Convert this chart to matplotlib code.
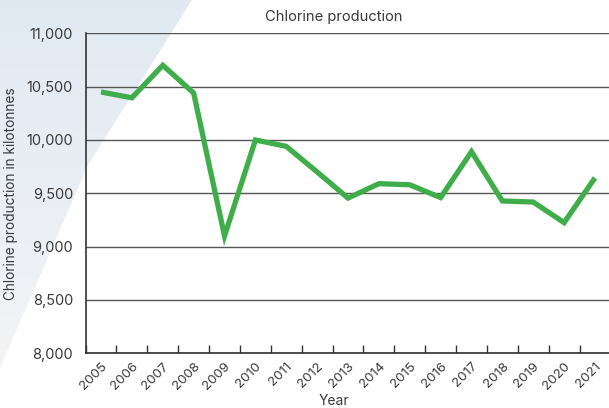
import numpy as np
import matplotlib.pyplot as plt
from matplotlib.patches import Polygon

plt.rcParams['font.family'] = ['Inter', 'DejaVu Sans']

years = ['2005', '2006', '2007', '2008', '2009', '2010', '2011', '2012', '2013',
         '2014', '2015', '2016', '2017', '2018', '2019', '2020', '2021']
production = [10450, 10395, 10700, 10440, 9100, 10000, 9940, 9700, 9455,
              9590, 9580, 9460, 9890, 9428, 9418, 9225, 9645]
y_ticks = [8000, 8500, 9000, 9500, 10000, 10500, 11000]

W, H = 609, 408
fig = plt.figure(figsize=(W / 100, H / 100), dpi=100)

# soft diagonal backdrop in the upper-left corner
bg = fig.add_axes([0, 0, 1, 1], zorder=0)
bg.set_xlim(0, W)
bg.set_ylim(H, 0)
bg.axis('off')
grad = np.linspace(0, 1, 256).reshape(-1, 1)
top_c = np.array([0.88, 0.915, 0.95])
bot_c = np.array([0.955, 0.955, 0.965])
img = top_c + (bot_c - top_c) * grad[..., None]
im = bg.imshow(img, extent=[0, W, 370, 0], aspect='auto')
shape = Polygon([(0, 0), (192, 0), (88, 165), (0, 368)], closed=True,
                transform=bg.transData, facecolor='none', edgecolor='none')
bg.add_patch(shape)
im.set_clip_path(shape)

left, right = 85.6, 610.4
top, bottom = 33.3, 353.3
ax = fig.add_axes([left / W, 1 - bottom / H, (right - left) / W, (bottom - top) / H],
                  zorder=1)
ax.patch.set_alpha(0)

x = np.arange(len(years))
ax.plot(x, production, color='#3fad49', lw=3.8, solid_joinstyle='miter',
        solid_capstyle='butt', zorder=3)

ax.set_xlim(-0.5, len(years) - 0.5)
ax.set_ylim(8000, 11000)
ax.set_yticks(y_ticks)
ax.set_yticklabels([f"{v:,}" for v in y_ticks], fontsize=10.5, color='#3a3a3a')
ax.tick_params(axis='y', length=0, pad=9)
ax.yaxis.grid(True, color='#555555', lw=1)
ax.set_axisbelow(True)

ax.set_xticks(x)
ax.set_xticklabels(years, rotation=45, ha='right', va='top',
                   rotation_mode='anchor', fontsize=9.6, color='#3a3a3a')
ax.tick_params(axis='x', which='major', length=0, pad=5)
ax.set_xticks(np.arange(len(years) + 1) - 0.5, minor=True)
ax.tick_params(axis='x', which='minor', direction='in', length=5.5,
               width=1, color='#333333')

for side in ['top', 'right']:
    ax.spines[side].set_visible(False)
for side in ['left', 'bottom']:
    ax.spines[side].set_color('#333333')
    ax.spines[side].set_linewidth(1.2)

ax.set_ylabel('Chlorine production in kilotonnes', fontsize=9.8, color='#3a3a3a')
ax.yaxis.set_label_coords(-(left - 18) / (right - left), 0.5)

fig.text(334 / W, 1 - 17 / H, 'Chlorine production', ha='center', va='center',
         fontsize=10.6, color='#3a3a3a')
fig.text(334 / W, 1 - 405 / H, 'Year', ha='center', va='baseline',
         fontsize=10, color='#3a3a3a')

fig.savefig('out.png', dpi=100)
